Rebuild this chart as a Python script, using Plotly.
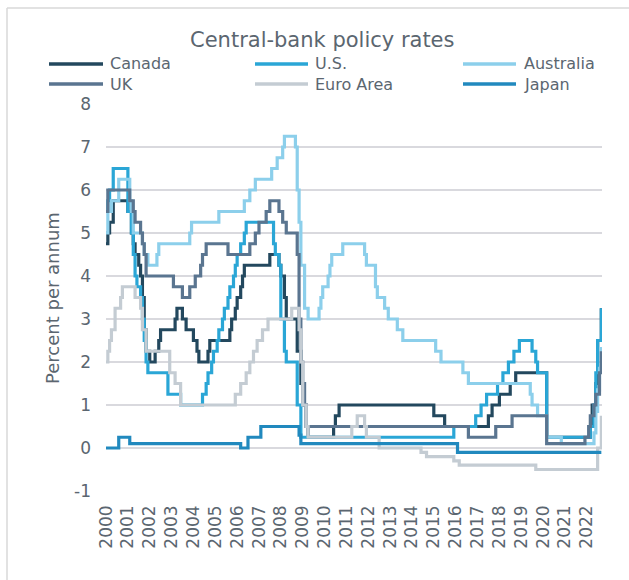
import plotly.graph_objects as go

# ---------------- data (change points: month the rate took effect, value) -------------
END = "2022-09"

canada_dates = ["2000-01", "2000-02", "2000-03", "2000-05", "2001-01", "2001-03", "2001-04", "2001-05",
                "2001-07", "2001-08", "2001-09", "2001-10", "2001-11", "2002-01", "2002-04", "2002-06",
                "2002-07", "2003-03", "2003-04", "2003-07", "2003-09", "2004-01", "2004-03", "2004-04",
                "2004-09", "2004-10", "2005-09", "2005-10", "2005-12", "2006-01", "2006-03", "2006-04",
                "2006-05", "2007-07", "2007-12", "2008-01", "2008-03", "2008-04", "2008-10", "2008-12",
                "2009-01", "2009-03", "2009-04", "2010-06", "2010-07", "2010-09", "2015-01", "2015-07",
                "2017-07", "2017-09", "2018-01", "2018-07", "2018-10", "2020-03", "2022-03", "2022-04",
                "2022-06", "2022-07", "2022-09"]
canada_values = [4.75, 5.0, 5.25, 5.75, 5.5, 5.0, 4.75, 4.5,
                 4.25, 4.0, 3.5, 2.75, 2.25, 2.0, 2.25, 2.5,
                 2.75, 3.0, 3.25, 3.0, 2.75, 2.5, 2.25, 2.0,
                 2.25, 2.5, 2.75, 3.0, 3.25, 3.5, 3.75, 4.0,
                 4.25, 4.5, 4.25, 4.0, 3.5, 3.0, 2.25, 1.5,
                 1.0, 0.5, 0.25, 0.5, 0.75, 1.0, 0.75, 0.5,
                 0.75, 1.0, 1.25, 1.5, 1.75, 0.25, 0.5, 1.0,
                 1.5, 2.5, 3.25]

us_dates = ["2000-01", "2000-02", "2000-03", "2000-05", "2001-01", "2001-03", "2001-04", "2001-05",
            "2001-06", "2001-08", "2001-09", "2001-10", "2001-11", "2001-12", "2002-11", "2003-06",
            "2004-06", "2004-08", "2004-09", "2004-11", "2004-12", "2005-02", "2005-03", "2005-05",
            "2005-06", "2005-08", "2005-09", "2005-11", "2005-12", "2006-01", "2006-03", "2006-05",
            "2006-06", "2007-09", "2007-10", "2007-12", "2008-01", "2008-03", "2008-04", "2008-10",
            "2008-12", "2015-12", "2016-12", "2017-03", "2017-06", "2017-12", "2018-03", "2018-06",
            "2018-09", "2018-12", "2019-07", "2019-09", "2019-10", "2020-03", "2022-03", "2022-05",
            "2022-06", "2022-07", "2022-09"]
us_values = [5.5, 5.75, 6.0, 6.5, 5.5, 5.0, 4.5, 4.0,
             3.75, 3.5, 3.0, 2.5, 2.0, 1.75, 1.25, 1.0,
             1.25, 1.5, 1.75, 2.0, 2.25, 2.5, 2.75, 3.0,
             3.25, 3.5, 3.75, 4.0, 4.25, 4.5, 4.75, 5.0,
             5.25, 4.75, 4.5, 4.25, 3.0, 2.25, 2.0, 1.0,
             0.25, 0.5, 0.75, 1.0, 1.25, 1.5, 1.75, 2.0,
             2.25, 2.5, 2.25, 2.0, 1.75, 0.25, 0.5, 1.0,
             1.75, 2.5, 3.25]

australia_dates = ["2000-01", "2000-02", "2000-04", "2000-08", "2001-02", "2001-03", "2001-04", "2001-09",
                   "2001-10", "2001-12", "2002-05", "2002-06", "2003-11", "2003-12", "2005-03", "2006-05",
                   "2006-08", "2006-11", "2007-08", "2007-11", "2008-02", "2008-03", "2008-09", "2008-10",
                   "2008-11", "2008-12", "2009-02", "2009-04", "2009-10", "2009-11", "2009-12", "2010-03",
                   "2010-04", "2010-05", "2010-11", "2011-11", "2011-12", "2012-05", "2012-06", "2012-10",
                   "2012-12", "2013-05", "2013-08", "2015-02", "2015-05", "2016-05", "2016-08", "2019-06",
                   "2019-07", "2019-10", "2020-03", "2020-11", "2022-05", "2022-06", "2022-07", "2022-08",
                   "2022-09"]
australia_values = [5.0, 5.5, 5.75, 6.25, 5.75, 5.5, 5.0, 4.75,
                    4.5, 4.25, 4.5, 4.75, 5.0, 5.25, 5.5, 5.75,
                    6.0, 6.25, 6.5, 6.75, 7.0, 7.25, 7.0, 6.0,
                    5.25, 4.25, 3.25, 3.0, 3.25, 3.5, 3.75, 4.0,
                    4.25, 4.5, 4.75, 4.5, 4.25, 3.75, 3.5, 3.25,
                    3.0, 2.75, 2.5, 2.25, 2.0, 1.75, 1.5, 1.25,
                    1.0, 0.75, 0.25, 0.1, 0.35, 0.85, 1.35, 1.85,
                    2.35]

uk_dates = ["2000-01", "2000-02", "2001-02", "2001-04", "2001-05", "2001-08", "2001-09", "2001-10",
            "2001-11", "2003-02", "2003-07", "2003-11", "2004-02", "2004-05", "2004-06", "2004-08",
            "2005-08", "2006-08", "2006-11", "2007-01", "2007-05", "2007-07", "2007-12", "2008-02",
            "2008-04", "2008-10", "2008-11", "2008-12", "2009-01", "2009-02", "2009-03", "2016-08",
            "2017-11", "2018-08", "2020-03", "2021-12", "2022-02", "2022-03", "2022-05", "2022-06",
            "2022-08", "2022-09"]
uk_values = [5.5, 6.0, 5.75, 5.5, 5.25, 5.0, 4.75, 4.5,
             4.0, 3.75, 3.5, 3.75, 4.0, 4.25, 4.5, 4.75,
             4.5, 4.75, 5.0, 5.25, 5.5, 5.75, 5.5, 5.25,
             5.0, 4.5, 3.0, 2.0, 1.5, 1.0, 0.5, 0.25,
             0.5, 0.75, 0.1, 0.25, 0.5, 0.75, 1.0, 1.25,
             1.75, 2.25]

euro_dates = ["2000-01", "2000-02", "2000-03", "2000-04", "2000-06", "2000-09", "2000-10", "2001-05",
              "2001-08", "2001-09", "2001-11", "2002-12", "2003-03", "2003-06", "2005-12", "2006-03",
              "2006-06", "2006-08", "2006-10", "2006-12", "2007-03", "2007-06", "2008-07", "2008-11",
              "2008-12", "2009-01", "2009-03", "2009-04", "2011-04", "2011-07", "2011-11", "2011-12",
              "2012-07", "2014-06", "2014-09", "2015-12", "2016-03", "2019-09", "2022-07", "2022-09"]
euro_values = [2.0, 2.25, 2.5, 2.75, 3.25, 3.5, 3.75, 3.5,
               3.25, 2.75, 2.25, 1.75, 1.5, 1.0, 1.25, 1.5,
               1.75, 2.0, 2.25, 2.5, 2.75, 3.0, 3.25, 2.75,
               2.0, 1.0, 0.5, 0.25, 0.5, 0.75, 0.5, 0.25,
               0.0, -0.1, -0.2, -0.3, -0.4, -0.5, 0.0, 0.75]

japan_dates = ["2000-01", "2000-08", "2001-02", "2006-03", "2006-07", "2007-02", "2008-11", "2008-12",
               "2016-02", "2022-09"]
japan_values = [0.0, 0.25, 0.1, 0.0, 0.25, 0.5, 0.3, 0.1,
                -0.1, -0.1]

series_names = ["Canada", "U.S.", "Australia", "UK", "Euro Area", "Japan"]
series_colors = ["#23485e", "#2aa6d6", "#8ccfeb", "#5a7590", "#c4ccd3", "#2189be"]
series_dates = [canada_dates, us_dates, australia_dates, uk_dates, euro_dates, japan_dates]
series_values = [canada_values, us_values, australia_values, uk_values, euro_values, japan_values]

y_ticks = [-1, 0, 1, 2, 3, 4, 5, 6, 7, 8]

TITLE = "Central-bank policy rates"
Y_TITLE = "Percent per annum"

# ---------------- layout geometry ----------------
W, H = 629, 580
ML, MR, MT, MB = 106, 27, 104, 89
PW = W - ML - MR
PH = H - MT - MB


def px(x):
    return (x - ML) / PW


def py(y):
    return (H - MB - y) / PH


TEXT = "#5b6670"
FONT = "DejaVu Sans"

fig = go.Figure()
for name, col, d, v in zip(series_names, series_colors, series_dates, series_values):
    xs = [s + "-01" for s in d]
    ys = list(v)
    if d[-1] != END:
        xs.append(END + "-01")
        ys.append(v[-1])
    fig.add_trace(go.Scatter(x=xs, y=ys, mode="lines", name=name,
                             line=dict(color=col, width=3.2, shape="hv"),
                             showlegend=False, hoverinfo="skip"))

shapes = []
annotations = []

# manual legend (3 columns x 2 rows)
leg_cols = [(49, 103, 108), (255, 308, 313), (463, 516, 522)]
leg_rows = [64, 84]
for i, (name, col) in enumerate(zip(series_names, series_colors)):
    r, c = divmod(i, 3)
    x0, x1, xt = leg_cols[c]
    yy = leg_rows[r]
    shapes.append(dict(type="line", xref="paper", yref="paper",
                       x0=px(x0), x1=px(x1), y0=py(yy), y1=py(yy),
                       line=dict(color=col, width=3.5)))
    annotations.append(dict(text=name, xref="paper", yref="paper", x=px(xt), y=py(yy),
                            xanchor="left", yanchor="middle", showarrow=False,
                            font=dict(family=FONT, size=16, color=TEXT)))

# title
annotations.append(dict(text=TITLE, xref="paper", yref="paper", x=px(322), y=py(40),
                        xanchor="center", yanchor="middle", showarrow=False,
                        font=dict(family=FONT, size=21, color=TEXT)))
# y-axis title
annotations.append(dict(text=Y_TITLE, xref="paper", yref="paper", x=px(52), y=py(298),
                        xanchor="center", yanchor="middle", textangle=-90, showarrow=False,
                        font=dict(family=FONT, size=18, color=TEXT)))

# outer frame (left and top edges visible)
shapes.append(dict(type="line", xref="paper", yref="paper", x0=px(7), x1=px(7),
                   y0=py(8), y1=py(H + 5), line=dict(color="#d9d9d9", width=1.5)))
shapes.append(dict(type="line", xref="paper", yref="paper", x0=px(7), x1=px(W + 5),
                   y0=py(8), y1=py(8), line=dict(color="#d9d9d9", width=1.5)))

fig.update_layout(
    width=W, height=H,
    margin=dict(l=ML, r=MR, t=MT, b=MB),
    paper_bgcolor="white", plot_bgcolor="white",
    font=dict(family=FONT, size=17, color=TEXT),
    shapes=shapes, annotations=annotations,
    showlegend=False,
)
fig.update_xaxes(type="date", range=["2000-01-01", "2022-09-12"],
                 tick0="2000-01-01", dtick="M12", tickformat="%Y", tickangle=-90,
                 showgrid=False, zeroline=False, showline=False, ticks="",
                 ticklabelstandoff=10, tickfont=dict(family=FONT, size=17, color=TEXT))
fig.update_yaxes(range=[-1, 8], tickvals=y_ticks, ticktext=[str(t) for t in y_ticks],
                 showgrid=True, gridcolor="#d9d9de", gridwidth=1.5,
                 zeroline=False, showline=False, ticks="",
                 ticklabelstandoff=14, tickfont=dict(family=FONT, size=17, color=TEXT))

fig.write_html("out.html", config={"displayModeBar": False},
               post_script="document.body.style.margin='0';document.body.style.overflow='hidden';")
